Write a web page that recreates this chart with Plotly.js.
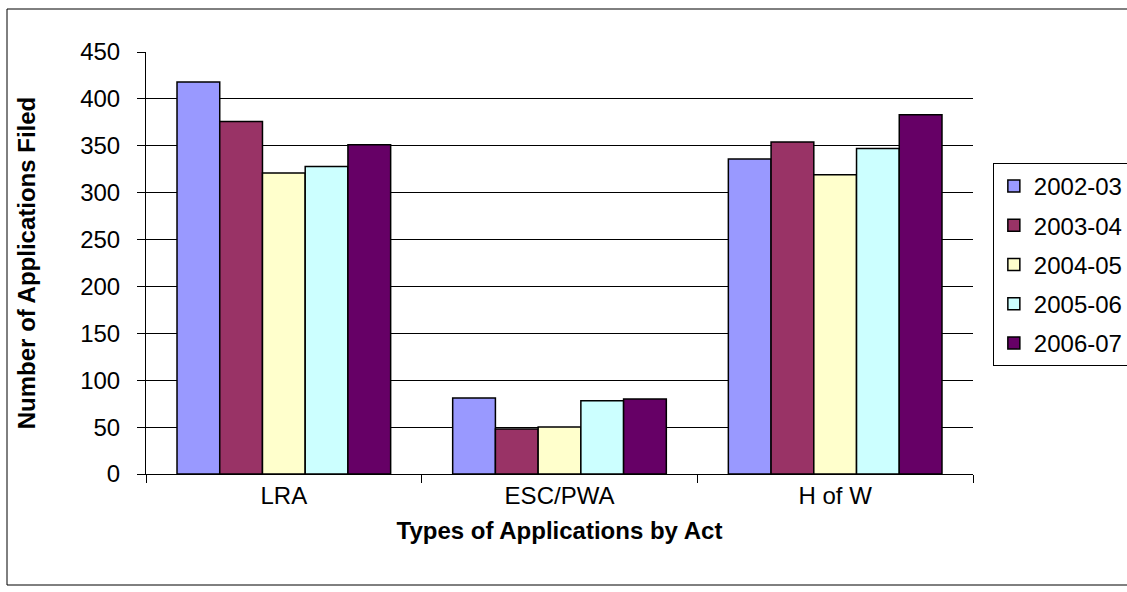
<!DOCTYPE html>
<html>
<head>
<meta charset="utf-8">
<script src="https://cdn.plot.ly/plotly-3.0.1.min.js"></script>
<style>
  html, body { margin: 0; padding: 0; background: #fff; }
  #chart { width: 1127px; height: 592px; }
</style>
</head>
<body>
<div id="chart"></div>
<script>
const categories = ["LRA", "ESC/PWA", "H of W"];
const seriesNames = ["2002-03", "2003-04", "2004-05", "2005-06", "2006-07"];
const v2002_03 = [418, 81, 336];
const v2003_04 = [376, 48, 354];
const v2004_05 = [321, 50, 319];
const v2005_06 = [328, 78, 347];
const v2006_07 = [351, 80, 383];
const seriesValues = [v2002_03, v2003_04, v2004_05, v2005_06, v2006_07];
const colors = ["#9999FF", "#993366", "#FFFFCC", "#CCFFFF", "#660066"];

const FONT = "Liberation Sans, Arial, sans-serif";
const FS = 24;

const traces = seriesNames.map((name, i) => ({
  type: "bar",
  name: name,
  x: categories,
  y: seriesValues[i],
  legendgroup: "g" + i,
  marker: { color: colors[i], line: { color: "#000", width: 1.5 } },
  hoverinfo: "x+y+name"
}));

const layout = {
  width: 1127,
  height: 592,
  margin: { l: 146, r: 154, t: 52, b: 118, autoexpand: false },
  paper_bgcolor: "#fff",
  plot_bgcolor: "#fff",
  font: { family: FONT, size: FS, color: "#000" },
  barmode: "group",
  bargap: 0.225,
  bargroupgap: 0,
  showlegend: true,
  legend: {
    x: 1.024, xanchor: "left",
    y: 0.737, yanchor: "top",
    bordercolor: "#000", borderwidth: 1,
    bgcolor: "#fff",
    font: { family: FONT, size: FS, color: "#000" },
    tracegroupgap: 5,
    traceorder: "grouped"
  },
  xaxis: {
    type: "category",
    showline: true, linecolor: "#000", linewidth: 1,
    ticks: "outside", ticklen: 8, tickcolor: "#000",
    tickson: "boundaries",
    showgrid: false,
    automargin: false,
    tickfont: { family: FONT, size: FS, color: "#000" },
    title: { text: "<b>Types of Applications by Act</b>", font: { family: FONT, size: FS, color: "#000" }, standoff: 14 }
  },
  yaxis: {
    range: [0, 450], dtick: 50, tick0: 0,
    showline: true, linecolor: "#000", linewidth: 1,
    ticks: "outside", ticklen: 8, tickcolor: "#000",
    ticklabelstandoff: 12,
    showgrid: true, gridcolor: "#000", gridwidth: 1,
    zeroline: false,
    automargin: false,
    tickfont: { family: FONT, size: FS, color: "#000" },
    title: { text: "<b>Number of Applications Filed</b>", font: { family: FONT, size: FS, color: "#000" }, standoff: 37 }
  },
  shapes: [{
    type: "rect", xref: "paper", yref: "paper",
    x0: (7 - 146) / 827, x1: (1135 - 146) / 827,
    y0: (474 - 585) / 422, y1: (474 - 9) / 422,
    line: { color: "#000", width: 1 }, fillcolor: "rgba(0,0,0,0)", layer: "below"
  }]
};

Plotly.newPlot("chart", traces, layout, { displayModeBar: false, staticPlot: true });
</script>
</body>
</html>
